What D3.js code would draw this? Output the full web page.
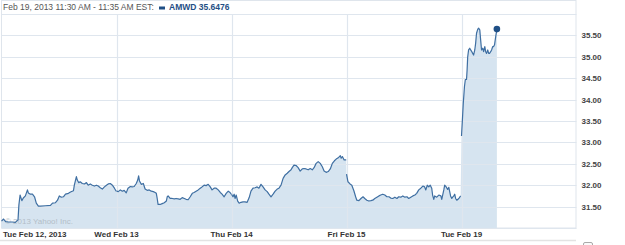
<!DOCTYPE html>
<html>
<head>
<meta charset="utf-8">
<script src="https://cdn.jsdelivr.net/npm/d3@7"></script>
<style>
  body { margin: 0; background: #fff; }
  svg { display: block; font-family: "Liberation Sans", Arial, sans-serif; }
</style>
</head>
<body>
<svg width="625" height="245"></svg>
<script>
// minutes after the 9:30 open, price
const feb12 = [[0,31.16],[7,31.21],[14,31.15],[24,31.14],[37,31.14],[47,31.13],[56,31.19],[59,31.54],[63,31.77],[64,31.75],[69,31.64],[74,31.70],[81,31.75],[88,31.89],[91,31.82],[98,31.79],[105,31.79],[112,31.73],[118,31.58],[125,31.51],[132,31.51],[149,31.52],[166,31.53],[173,31.58],[183,31.59],[190,31.65],[196,31.75],[203,31.72],[210,31.73],[217,31.79],[227,31.81],[234,31.84],[244,31.87],[247,32.00],[254,32.20],[257,32.12],[262,32.06],[267,32.08],[274,32.04],[281,32.03],[288,32.06],[294,32.00],[301,32.03],[308,32.00],[315,31.98],[322,32.00],[328,31.98],[335,31.94],[342,31.91],[349,31.96],[356,32.00],[362,32.03],[369,32.04],[376,32.00],[383,31.93],[389,31.86]];
const feb13 = [[0,31.86],[6,31.85],[13,31.89],[20,31.86],[26,31.88],[33,31.82],[39,31.93],[47,31.97],[53,31.96],[60,31.97],[67,32.04],[72,32.12],[75,32.22],[78,32.10],[84,32.02],[91,32.04],[97,31.91],[104,31.88],[111,31.89],[118,31.86],[125,31.85],[131,31.83],[135,31.81],[138,31.69],[141,31.55],[148,31.55],[155,31.57],[162,31.59],[169,31.63],[172,31.73],[175,31.75],[182,31.69],[189,31.69],[196,31.68],[202,31.69],[209,31.68],[216,31.67],[223,31.71],[230,31.69],[236,31.67],[243,31.66],[250,31.73],[257,31.81],[263,31.83],[270,31.86],[277,31.89],[284,31.93],[290,31.96],[297,32.00],[304,31.99],[311,32.02],[318,31.96],[324,31.89],[331,31.93],[338,31.93],[345,31.89],[352,31.83],[358,31.79],[365,31.73],[372,31.81],[379,31.86],[385,31.83],[389,31.79]];
const feb14 = [[0,31.79],[5,31.73],[9,31.79],[12,31.69],[16,31.77],[21,31.63],[26,31.58],[32,31.60],[39,31.61],[46,31.61],[53,31.60],[60,31.71],[66,31.86],[73,31.93],[80,31.94],[87,31.96],[93,31.93],[100,32.02],[107,31.96],[114,31.89],[121,31.85],[127,31.79],[134,31.73],[141,31.79],[148,31.86],[155,31.91],[161,31.93],[168,32.00],[175,32.16],[182,32.24],[189,32.28],[195,32.32],[202,32.36],[206,32.41],[212,32.47],[219,32.46],[226,32.41],[233,32.33],[240,32.38],[246,32.39],[253,32.38],[260,32.36],[267,32.39],[274,32.36],[280,32.41],[287,32.51],[294,32.55],[301,32.51],[308,32.43],[314,32.33],[321,32.30],[328,32.32],[335,32.38],[342,32.51],[349,32.57],[355,32.61],[362,32.64],[369,32.69],[372,32.63],[376,32.67],[382,32.59],[389,32.59]];
const feb15 = [[0,32.26],[5,32.08],[12,32.03],[18,32.00],[25,31.87],[31,31.73],[35,31.65],[42,31.64],[49,31.69],[56,31.73],[62,31.69],[69,31.65],[76,31.63],[83,31.64],[89,31.65],[96,31.69],[103,31.72],[110,31.75],[116,31.77],[123,31.79],[130,31.77],[137,31.73],[144,31.73],[150,31.70],[157,31.69],[164,31.72],[171,31.69],[177,31.73],[184,31.72],[191,31.75],[198,31.72],[205,31.73],[211,31.69],[218,31.72],[225,31.75],[232,31.77],[238,31.81],[245,31.89],[252,31.93],[259,31.98],[265,31.96],[269,31.89],[274,32.00],[279,31.96],[284,32.00],[289,31.93],[292,31.77],[296,31.67],[299,31.75],[306,31.72],[313,31.77],[320,31.75],[323,31.67],[330,31.89],[333,32.00],[338,31.96],[343,31.90],[347,31.95],[350,31.85],[353,31.75],[357,31.69],[360,31.72],[364,31.75],[367,31.79],[370,31.69],[374,31.65],[381,31.69],[387,31.75]];
const feb19 = [[0,33.15],[3,33.52],[6,33.91],[10,34.30],[13,34.47],[17,34.47],[19,34.69],[21,35.00],[24,35.16],[28,35.20],[31,35.16],[35,35.12],[38,35.08],[41,35.04],[45,35.16],[48,35.32],[51,35.55],[55,35.64],[58,35.67],[62,35.63],[65,35.39],[68,35.16],[72,35.20],[75,35.12],[79,35.24],[82,35.12],[85,35.08],[89,35.16],[92,35.08],[95,35.08],[99,35.12],[102,35.16],[106,35.24],[109,35.24],[112,35.28],[116,35.47],[120,35.6476]];

const days = [feb12, feb13, feb14, feb15, feb19];
const dayLabels = ["Tue Feb 12, 2013", "Wed Feb 13", "Thu Feb 14", "Fri Feb 15", "Tue Feb 19"];
const yTicks = [31.5, 32, 32.5, 33, 33.5, 34, 34.5, 35, 35.5];
const headerText = "Feb 19, 2013 11:30 AM - 11:35 AM EST:";
const symbol = "AMWD";
const lastPrice = 35.6476;

const session = 390;
const svg = d3.select("svg");

const x = d3.scaleLinear().domain([0, days.length * session]).range([1.5, 576.5]);
const y = d3.scaleLinear().domain([31, 36]).range([228, 14]);

// each day on one time axis
const dayPoints = days.map((day, i) => day.map(d => ({ t: i * session + d[0], v: d[1] })));
const points = dayPoints.flat();

const area = d3.area()
  .x(d => x(d.t))
  .y0(y(31))
  .y1(d => y(d.v));

const line = d3.line()
  .x(d => x(d.t))
  .y(d => y(d.v));

// outer box
svg.append("rect")
  .attr("x", 1.5).attr("y", 0.5)
  .attr("width", 574.5).attr("height", 227.5)
  .attr("fill", "none")
  .attr("stroke", "#dfe5ec");

svg.append("path")
  .datum(points)
  .attr("d", area)
  .attr("fill", "#d6e4f0");

// grid
const grid = svg.append("g").attr("stroke", "#dfe6ee").attr("stroke-width", 1.2);
d3.range(31, 36.01, 0.5).forEach(v => {
  grid.append("line")
    .attr("x1", x(0)).attr("x2", x(days.length * session))
    .attr("y1", Math.round(y(v)) + 0.5).attr("y2", Math.round(y(v)) + 0.5);
});
d3.range(1, days.length).forEach(i => {
  grid.append("line")
    .attr("x1", Math.round(x(i * session)) + 0.5).attr("x2", Math.round(x(i * session)) + 0.5)
    .attr("y1", y(36)).attr("y2", y(31));
});

svg.append("text")
  .attr("x", 5).attr("y", 224)
  .attr("font-size", 8)
  .attr("fill", "#b3bec8")
  .text("\u00a9 2013 Yahoo! Inc.");

svg.append("g")
  .selectAll("path")
  .data(dayPoints)
  .join("path")
  .attr("d", line)
  .attr("fill", "none")
  .attr("stroke", "#3f6fa2")
  .attr("stroke-width", 1.2)
  .attr("stroke-linejoin", "round");

const last = points[points.length - 1];
svg.append("circle")
  .attr("cx", x(last.t)).attr("cy", y(last.v))
  .attr("r", 3.3)
  .attr("fill", "#1f4f86");

// y axis on the right
const yAxis = svg.append("g")
  .attr("transform", `translate(${x(days.length * session) + 2},0)`)
  .call(d3.axisRight(y).tickValues(yTicks).tickFormat(d3.format(".2f")).tickSize(0));
yAxis.select(".domain").remove();
yAxis.selectAll("text")
  .attr("font-family", "Liberation Sans, Arial, sans-serif")
  .attr("font-size", 8)
  .attr("font-weight", "bold")
  .attr("fill", "#444");

// day labels
svg.append("g")
  .selectAll("text")
  .data(dayLabels)
  .join("text")
  .attr("x", (d, i) => i === 0 ? 3 : x(i * session))
  .attr("y", 237)
  .attr("text-anchor", (d, i) => i === 0 ? "start" : "middle")
  .attr("font-size", 8)
  .attr("font-weight", "bold")
  .attr("fill", "#333")
  .text(d => d);

// header
svg.append("text")
  .attr("x", 3).attr("y", 10)
  .attr("font-size", 8.5)
  .attr("fill", "#555")
  .text(headerText);
svg.append("rect")
  .attr("x", 159).attr("y", 6.5)
  .attr("width", 6).attr("height", 3)
  .attr("fill", "#1f4f86");
svg.append("text")
  .attr("x", 169).attr("y", 10)
  .attr("font-size", 8.5)
  .attr("font-weight", "bold")
  .attr("fill", "#1f4f86")
  .text(`${symbol} ${lastPrice}`);

// bottom strip
svg.append("line")
  .attr("x1", 0).attr("x2", 576)
  .attr("y1", 240.5).attr("y2", 240.5)
  .attr("stroke", "#e3e3e3")
  .attr("stroke-width", 1.5);
svg.append("rect")
  .attr("x", 583.5).attr("y", 242.5)
  .attr("width", 9).attr("height", 6)
  .attr("rx", 1.5)
  .attr("fill", "#fafafa")
  .attr("stroke", "#aaa");
</script>
</body>
</html>
